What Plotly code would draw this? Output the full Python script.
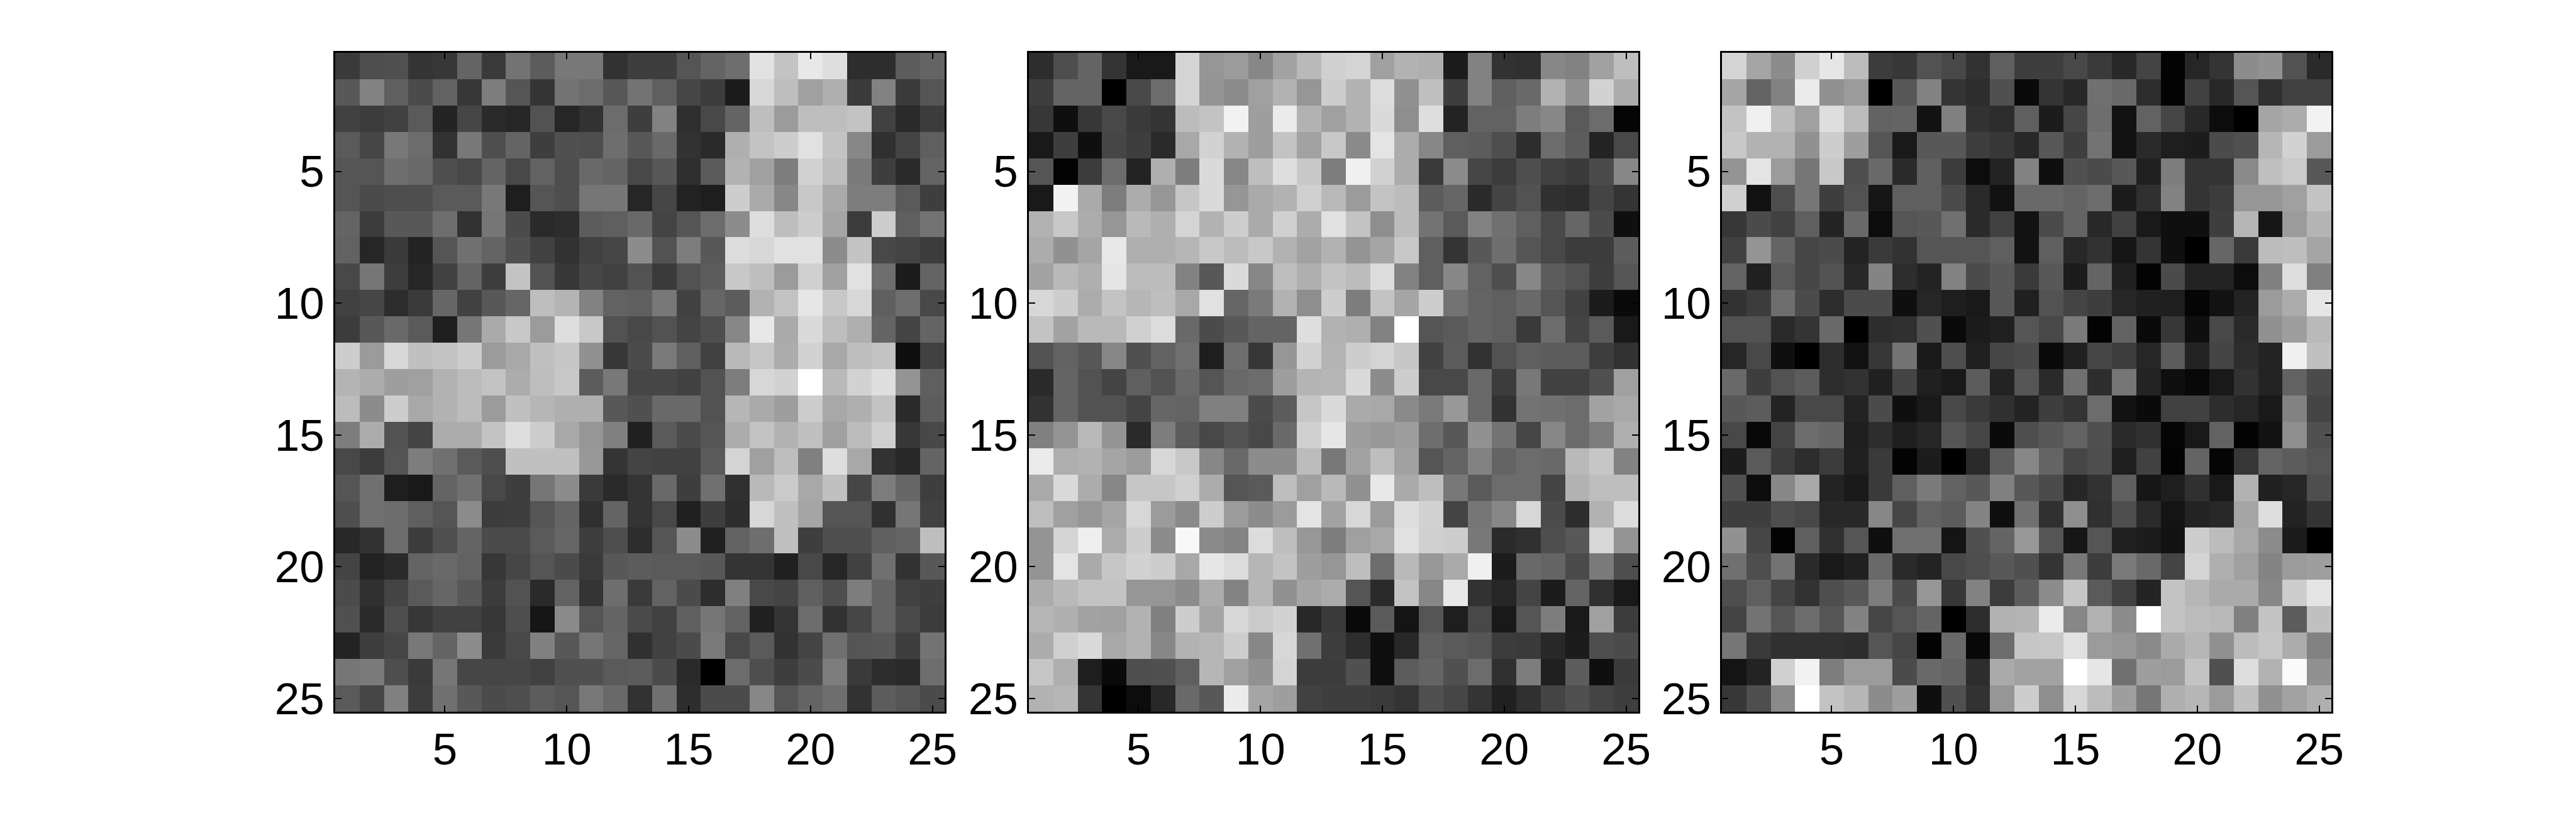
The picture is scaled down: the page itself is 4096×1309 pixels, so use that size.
import plotly.graph_objects as go

W, H = 4096, 1309
ticks = [5, 10, 15, 20, 25]

panel_1 = [
[58,78,80,52,55,100,58,115,92,120,120,50,62,62,85,100,110,225,195,232,222,45,45,92,100],
[88,130,95,75,98,55,125,85,52,115,108,88,115,95,70,60,28,215,190,160,175,58,130,58,85],
[65,60,65,90,36,70,42,38,82,38,50,108,62,130,46,72,100,190,155,190,190,195,65,42,60],
[90,70,120,108,50,120,78,100,62,80,78,110,88,105,50,42,175,195,205,225,195,135,48,68,95],
[85,85,110,105,78,72,100,72,98,78,105,100,72,88,46,90,178,160,125,210,190,122,62,42,100],
[85,75,78,78,90,90,120,30,85,78,118,118,38,70,35,30,205,170,135,200,170,125,125,90,62],
[100,60,88,88,110,50,118,75,42,45,92,95,105,68,85,108,140,222,190,205,165,60,205,95,115],
[98,38,58,35,85,112,100,80,65,50,65,70,140,82,125,88,220,215,225,225,140,195,72,68,60],
[72,118,62,38,65,100,62,195,82,55,70,65,82,58,82,92,200,190,155,208,160,225,110,28,100],
[65,70,45,58,102,65,88,102,190,180,130,98,95,120,65,102,92,178,195,230,200,215,95,110,72],
[60,88,105,90,30,118,170,200,155,222,200,82,72,82,68,78,135,232,170,218,190,175,100,68,100],
[205,155,215,192,195,205,155,168,192,198,145,55,75,122,95,65,185,198,172,210,168,190,195,15,65],
[180,172,158,160,178,188,195,172,190,200,92,120,70,70,65,82,125,215,210,255,185,210,222,148,95],
[188,140,205,168,178,188,155,192,182,175,175,88,80,105,105,82,182,170,158,205,168,175,195,42,92],
[125,172,82,68,172,172,195,222,205,168,150,128,32,90,75,85,172,195,178,192,160,188,208,55,72],
[72,60,85,125,112,90,78,192,192,192,152,52,68,65,65,90,212,160,190,128,222,168,50,40,100],
[85,112,30,25,100,112,72,62,118,140,58,42,52,105,62,112,48,185,202,168,192,70,125,102,62],
[78,112,108,95,85,140,60,62,85,100,48,100,52,72,32,62,45,215,192,165,85,85,48,118,65],
[40,50,108,60,80,100,75,75,90,102,62,78,45,85,140,32,98,110,192,62,78,78,95,100,190],
[68,35,42,100,105,98,55,70,85,75,58,88,92,90,90,88,52,52,32,72,38,65,112,50,88],
[75,48,68,90,102,88,60,82,42,98,52,110,58,98,75,45,128,72,68,95,78,125,100,65,62],
[80,42,78,55,65,65,55,78,22,138,85,100,75,65,95,118,98,32,52,108,50,70,100,75,60],
[35,62,70,120,100,140,58,72,128,88,118,102,48,65,75,122,72,90,50,68,112,85,88,62,115],
[118,122,78,58,118,70,70,70,65,80,80,90,92,75,42,0,108,78,62,75,125,58,45,42,110],
[90,70,128,60,112,88,75,78,92,85,120,105,50,112,45,75,75,135,85,100,110,50,92,85,75],
]

panel_2 = [
[45,78,100,52,25,25,212,150,155,135,162,185,208,212,160,178,175,28,130,50,48,135,130,160,190],
[62,100,100,0,72,108,212,148,140,160,178,150,205,178,220,145,192,62,130,95,105,178,145,210,172],
[55,15,55,72,58,52,188,195,242,158,235,178,160,178,218,142,222,35,98,98,125,135,90,108,5],
[25,62,15,70,62,42,168,210,178,158,195,162,200,138,228,172,135,95,92,78,45,108,92,35,72],
[85,3,60,108,35,175,125,218,135,190,222,200,125,240,210,172,58,140,70,60,78,65,58,75,135],
[25,242,170,125,172,150,198,218,150,170,178,208,185,155,195,188,92,102,42,68,82,48,45,68,52],
[178,200,172,150,185,175,212,178,205,170,208,172,225,195,142,188,115,90,130,112,95,72,102,75,15],
[172,145,165,232,175,175,182,200,188,200,178,162,178,148,165,200,95,52,88,110,85,72,60,60,92],
[162,185,175,228,188,188,130,88,218,135,190,175,195,188,220,130,95,135,98,78,135,92,82,62,85],
[215,205,172,195,182,190,168,225,102,122,178,142,205,125,195,165,205,115,100,95,105,85,65,28,10],
[195,162,185,185,208,220,105,75,88,100,100,222,178,175,130,255,85,90,100,95,58,108,68,90,25],
[82,98,88,135,80,98,112,30,110,55,150,210,180,205,212,198,65,92,50,82,95,92,92,62,50],
[42,100,82,68,95,82,105,85,105,108,158,180,182,218,140,205,72,72,105,60,120,65,65,80,160],
[50,100,82,82,68,102,100,128,128,75,92,198,218,170,168,138,122,152,105,50,115,112,108,162,168],
[128,148,185,148,42,125,92,72,82,72,105,208,230,158,152,158,110,88,145,115,70,135,108,125,175],
[235,175,178,165,155,215,200,135,105,140,140,188,120,162,190,160,85,100,130,100,108,105,185,198,130],
[170,218,172,135,198,198,208,172,85,90,190,160,185,145,232,170,190,120,90,108,108,68,178,190,190],
[190,160,150,165,215,155,138,205,155,140,155,228,162,215,155,222,210,68,118,135,215,75,45,178,220],
[148,212,238,172,205,140,248,138,132,220,190,152,125,160,168,225,208,205,120,42,48,78,88,215,148],
[148,228,170,198,210,205,168,230,220,182,195,158,150,190,108,185,152,170,240,28,105,100,75,122,78],
[172,185,195,195,150,150,140,172,132,182,145,165,172,85,42,195,135,232,50,38,68,28,100,48,25],
[182,175,162,160,178,128,205,165,215,202,210,40,58,10,90,20,85,30,72,25,85,125,25,160,60],
[172,208,218,168,178,135,178,182,205,135,215,112,62,45,15,40,95,90,85,60,58,40,28,78,75],
[198,175,30,10,78,80,95,182,160,145,212,60,60,80,15,92,100,80,108,48,125,32,92,15,58],
[178,182,52,0,12,40,105,88,235,165,158,65,62,62,58,52,80,70,52,32,48,68,80,68,62],
]

panel_3 = [
[212,165,140,208,230,188,60,55,82,72,50,95,62,62,72,58,40,68,3,38,52,140,145,82,42],
[165,100,130,235,145,155,0,88,130,52,45,80,10,52,40,112,105,45,3,65,40,85,48,65,65],
[195,240,188,160,222,188,98,100,18,128,50,45,95,28,70,110,18,98,70,40,12,0,165,172,242],
[200,178,178,145,205,158,85,25,88,88,62,55,40,88,62,115,18,42,30,28,75,80,182,210,155],
[148,228,155,118,200,78,105,42,95,60,12,35,130,15,80,75,88,32,125,52,52,138,192,202,88],
[208,18,78,118,62,82,22,95,95,75,42,18,105,105,100,108,28,48,130,52,60,150,150,160,195],
[55,75,65,95,35,105,12,85,88,112,42,65,18,75,100,40,65,25,15,15,62,182,22,155,180],
[65,148,100,70,75,35,58,50,85,85,85,95,18,95,40,50,22,52,15,0,102,58,188,190,165],
[100,32,90,70,82,40,132,45,35,130,75,88,58,88,28,100,32,3,75,35,35,12,128,222,128],
[50,60,110,75,45,75,75,15,38,30,25,88,32,82,68,62,38,32,30,5,18,35,155,172,230],
[82,82,42,52,105,0,45,48,80,10,28,32,85,72,122,3,98,10,55,15,72,42,145,158,185],
[38,72,15,0,45,18,55,115,25,78,32,70,75,10,32,70,62,38,92,35,68,45,35,240,192],
[105,62,82,92,45,50,32,68,32,25,92,35,85,42,112,45,118,35,15,8,25,50,35,98,75],
[88,92,35,72,72,35,75,15,25,72,58,48,35,62,52,108,18,10,65,65,45,38,25,130,68],
[72,8,68,108,102,30,45,30,38,85,70,10,78,88,98,80,42,48,5,25,98,3,18,142,80],
[28,90,60,45,60,32,58,3,28,0,42,92,135,100,70,78,30,65,3,100,5,55,100,92,85],
[80,12,135,168,35,25,58,95,122,98,88,128,88,75,38,50,95,22,30,48,25,178,32,38,78],
[62,62,78,72,40,40,135,70,98,92,132,15,112,48,142,48,78,42,20,35,40,165,222,35,52],
[145,70,3,95,48,85,15,112,112,20,80,100,152,85,22,85,32,28,18,205,188,168,140,28,0],
[112,78,115,42,25,32,105,42,35,72,78,88,80,52,120,60,122,105,68,212,175,160,132,155,158],
[78,95,68,50,78,88,125,75,150,55,130,60,92,140,198,90,65,35,195,182,170,170,135,205,228],
[68,115,85,108,85,130,70,85,100,0,45,178,180,235,135,178,140,255,195,188,185,128,195,92,192],
[118,58,48,48,48,45,85,70,3,105,8,108,198,200,225,155,150,138,170,182,145,188,198,172,130],
[20,35,208,242,125,155,155,75,105,100,45,170,162,162,255,230,112,158,155,195,80,222,178,250,145],
[55,78,138,255,195,182,140,158,15,80,50,150,205,142,215,188,158,118,175,182,155,192,145,162,175],
]

cells = list(range(1, 26))
panels = [panel_1, panel_2, panel_3]
x_px = [(533, 1502), (1636, 2605), (2738, 3707)]
y_px = (84, 1132)

fig = go.Figure()
layout = dict(
    width=W, height=H,
    autosize=False,
    margin=dict(l=0, r=0, t=0, b=0, pad=0),
    paper_bgcolor="white", plot_bgcolor="white",
    showlegend=False,
    font=dict(family="Liberation Sans", size=71, color="black"),
)
gray = [[0, "rgb(0,0,0)"], [1, "rgb(255,255,255)"]]
for k, (z, xr) in enumerate(zip(panels, x_px), start=1):
    suffix = "" if k == 1 else str(k)
    fig.add_trace(go.Heatmap(z=z, x=cells, y=cells, colorscale=gray, zmin=0, zmax=255,
                             showscale=False, xaxis="x" + suffix, yaxis="y" + suffix))
    axis = dict(showline=True, linecolor="black", linewidth=3, mirror="ticks",
                ticks="inside", ticklen=10, tickwidth=2, tickcolor="black",
                tickvals=ticks, ticktext=[str(t) for t in ticks],
                showgrid=False, zeroline=False, automargin=False,
                tickfont=dict(family="Liberation Sans", size=71, color="black"))
    layout["xaxis" + suffix] = dict(axis, domain=[xr[0] / W, xr[1] / W], range=[0.5, 25.5],
                                    anchor="y" + suffix, ticklabelstandoff=-4)
    layout["yaxis" + suffix] = dict(axis, domain=[1 - y_px[1] / H, 1 - y_px[0] / H],
                                    range=[25.5, 0.5], anchor="x" + suffix)
fig.update_layout(**layout)
fig.write_html("out.html", config={"displayModeBar": False},
               post_script="document.body.style.margin='0';document.body.style.overflow='hidden';")
